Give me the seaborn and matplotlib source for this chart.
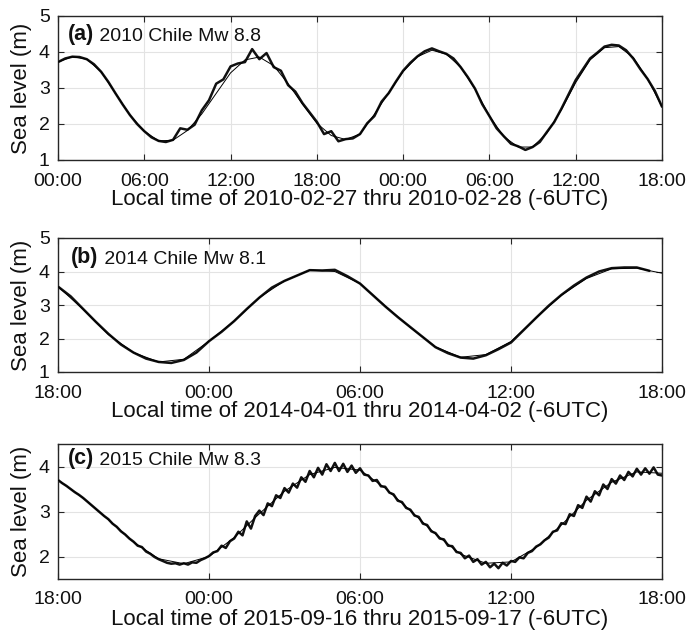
import numpy as np
import pandas as pd
import matplotlib
matplotlib.use("Agg")
import matplotlib.pyplot as plt
import seaborn as sns

# ---------------- data (hours since start of each window) ----------------
panel_labels = ["(a)", "(b)", "(c)"]
panel_titles = [" 2010 Chile Mw 8.8", " 2014 Chile Mw 8.1", " 2015 Chile Mw 8.3"]
xlabels = ["Local time of 2010-02-27 thru 2010-02-28 (-6UTC)",
           "Local time of 2014-04-01 thru 2014-04-02 (-6UTC)",
           "Local time of 2015-09-16 thru 2015-09-17 (-6UTC)"]
tick_labels_a = ["00:00", "06:00", "12:00", "18:00", "00:00", "06:00", "12:00", "18:00"]
tick_labels_bc = ["18:00", "00:00", "06:00", "12:00", "18:00"]

# panel (a): predicted tide, hourly
tide_a = [3.72, 3.87, 3.80, 3.45, 2.85, 2.25, 1.80, 1.53, 1.55, 1.82,
          2.28, 2.85, 3.42, 3.78, 3.86, 3.62, 3.12, 2.55, 2.02, 1.68,
          1.57, 1.72, 2.27, 2.87, 3.46, 3.87, 4.05, 3.94, 3.58, 2.97,
          2.22, 1.65, 1.36, 1.36, 1.75, 2.39, 3.15, 3.78, 4.12, 4.15,
          3.85, 3.25, 2.48]
# panel (a): observed, every 30 min
obs_a = [3.72, 3.82, 3.87, 3.86, 3.80, 3.66, 3.45, 3.17, 2.85, 2.54,
         2.25, 2.00, 1.80, 1.63, 1.53, 1.50, 1.56, 1.88, 1.84, 1.98,
         2.38, 2.66, 3.12, 3.24, 3.60, 3.68, 3.72, 4.08, 3.80, 3.97,
         3.58, 3.48, 3.08, 2.90, 2.58, 2.32, 2.06, 1.72, 1.80, 1.52,
         1.58, 1.60, 1.72,
         2.02, 2.22, 2.62, 2.86, 3.18, 3.48, 3.70, 3.88, 4.02, 4.10,
         4.02, 3.95, 3.82, 3.58, 3.30, 2.98, 2.55, 2.22, 1.88, 1.66,
         1.45, 1.38, 1.28, 1.36, 1.50, 1.78, 2.05, 2.42, 2.82, 3.22,
         3.52, 3.82, 3.98, 4.15, 4.20, 4.18, 4.05, 3.82, 3.52, 3.25,
         2.92, 2.48]

# panel (b): predicted tide, hourly
tide_b = [3.55, 2.87, 2.12, 1.58, 1.30, 1.38, 1.92, 2.52, 3.22, 3.72,
          4.04, 4.00, 3.64, 2.97, 2.33, 1.75, 1.44, 1.52, 1.91, 2.62,
          3.29, 3.79, 4.08, 4.10, 3.95]
# panel (b): observed, every 30 min (record ends 17:30)
obs_b = [3.55, 3.26, 2.88, 2.50, 2.14, 1.82, 1.58, 1.40, 1.30, 1.27,
         1.36, 1.58, 1.92, 2.20, 2.52, 2.88, 3.22, 3.52, 3.72, 3.88,
         4.04, 4.03, 4.05, 3.86, 3.64, 3.30, 2.96, 2.64, 2.34, 2.04,
         1.74, 1.56, 1.43, 1.40, 1.50, 1.68, 1.88, 2.25, 2.62, 2.98,
         3.30, 3.58, 3.82, 4.00, 4.10, 4.12, 4.12, 4.02]

# panel (c): predicted tide, hourly
tide_c = [3.70, 3.30, 2.82, 2.32, 1.95, 1.84, 2.00, 2.42, 2.95, 3.45,
          3.82, 3.98, 3.92, 3.52, 3.02, 2.50, 2.05, 1.85, 1.88, 2.20,
          2.70, 3.25, 3.65, 3.88, 3.85]
# panel (c): observed, every 10 min
obs_c = [3.70, 3.63, 3.57, 3.50, 3.43, 3.37,
         3.30, 3.22, 3.14, 3.06, 2.98, 2.90,
         2.83, 2.73, 2.66, 2.56, 2.49, 2.40,
         2.33, 2.24, 2.21, 2.11, 2.06, 1.99,
         1.94, 1.90, 1.86, 1.84, 1.85, 1.82,
         1.85, 1.82, 1.87, 1.86, 1.92, 1.96,
         2.01, 2.09, 2.12, 2.24, 2.19, 2.34,
         2.40, 2.55, 2.47, 2.78, 2.62, 2.90,
         3.02, 2.92, 3.18, 3.12, 3.36, 3.30,
         3.52, 3.42, 3.62, 3.53, 3.76, 3.66,
         3.90, 3.76, 3.97, 3.82, 4.05, 3.90,
         4.08, 3.90, 4.06, 3.88, 4.02, 3.86,
         3.96, 3.82, 3.80, 3.68, 3.70, 3.56,
         3.55, 3.42, 3.38, 3.24, 3.21, 3.08,
         3.04, 2.91, 2.88, 2.73, 2.70, 2.56,
         2.52, 2.40, 2.38, 2.24, 2.23, 2.10,
         2.08, 1.96, 2.02, 1.88, 1.94, 1.82,
         1.88, 1.76, 1.84, 1.74, 1.86, 1.80,
         1.90, 1.88, 1.98, 1.96, 2.08, 2.12,
         2.22, 2.27, 2.36, 2.42, 2.55, 2.58,
         2.74, 2.72, 2.94, 2.90, 3.14, 3.08,
         3.33, 3.22, 3.45, 3.36, 3.60, 3.50,
         3.72, 3.62, 3.80, 3.70, 3.88, 3.78,
         3.95, 3.82, 3.96, 3.84, 3.98, 3.82,
         3.80]

panels = [
    dict(tide=tide_a, tide_step=1.0, obs=obs_a, obs_step=0.5, span=42,
         ticks=tick_labels_a, ylim=(1, 5), yticks=[1, 2, 3, 4, 5]),
    dict(tide=tide_b, tide_step=1.0, obs=obs_b, obs_step=0.5, span=24,
         ticks=tick_labels_bc, ylim=(1, 5), yticks=[1, 2, 3, 4, 5]),
    dict(tide=tide_c, tide_step=1.0, obs=obs_c, obs_step=1 / 6, span=24,
         ticks=tick_labels_bc, ylim=(1.5, 4.5), yticks=[2, 3, 4]),
]

# ---------------- style ----------------
sns.set_theme(style="ticks")
plt.rcParams["font.family"] = ["Liberation Sans", "DejaVu Sans"]

fig = plt.figure(figsize=(6.88, 6.30), dpi=100)
rects = [
    (58 / 688, 1 - 160 / 630, 604 / 688, 144 / 630),
    (58 / 688, 1 - 372 / 630, 604 / 688, 134 / 630),
    (58 / 688, 1 - 579 / 630, 604 / 688, 135 / 630),
]
text_pos = [(0.016, 0.87), (0.022, 0.855), (0.016, 0.895)]

for i, p in enumerate(panels):
    ax = fig.add_axes(rects[i])
    t_tide = np.arange(len(p["tide"])) * p["tide_step"]
    t_obs = np.arange(len(p["obs"])) * p["obs_step"]
    sns.lineplot(x=t_tide, y=p["tide"], ax=ax, color="black", lw=0.7,
                 estimator=None, sort=False, zorder=3)
    sns.lineplot(x=t_obs, y=p["obs"], ax=ax, color="#111111", lw=1.8,
                 estimator=None, sort=False, zorder=2)
    ax.set_xlim(0, p["span"])
    ax.set_ylim(*p["ylim"])
    ax.set_xticks(np.arange(0, p["span"] + 1, 6))
    ax.set_xticklabels(p["ticks"])
    ax.set_yticks(p["yticks"])
    ax.grid(True, color="#e3e3e3", lw=0.8)
    ax.set_axisbelow(True)
    for s in ax.spines.values():
        s.set_color("#262626")
        s.set_linewidth(1.0)
    ax.tick_params(direction="in", top=True, right=True, length=4,
                   width=0.8, color="#262626", labelsize=14,
                   labelcolor="#111111")
    ax.tick_params(axis="x", pad=9)
    ax.tick_params(axis="y", pad=6)
    ax.set_xlabel(xlabels[i], fontsize=16, labelpad=0, color="#111111")
    ax.set_ylabel("Sea level (m)", fontsize=16, labelpad=5, color="#111111")
    t1 = ax.text(text_pos[i][0], text_pos[i][1], panel_labels[i],
                 transform=ax.transAxes, fontsize=15.5, fontweight="bold",
                 va="center", ha="left", color="#111111")
    ax.annotate(panel_titles[i], xy=(1, 0), xycoords=t1, va="bottom",
                ha="left", fontsize=14, color="#111111")

fig.savefig("out.png", dpi=100)
